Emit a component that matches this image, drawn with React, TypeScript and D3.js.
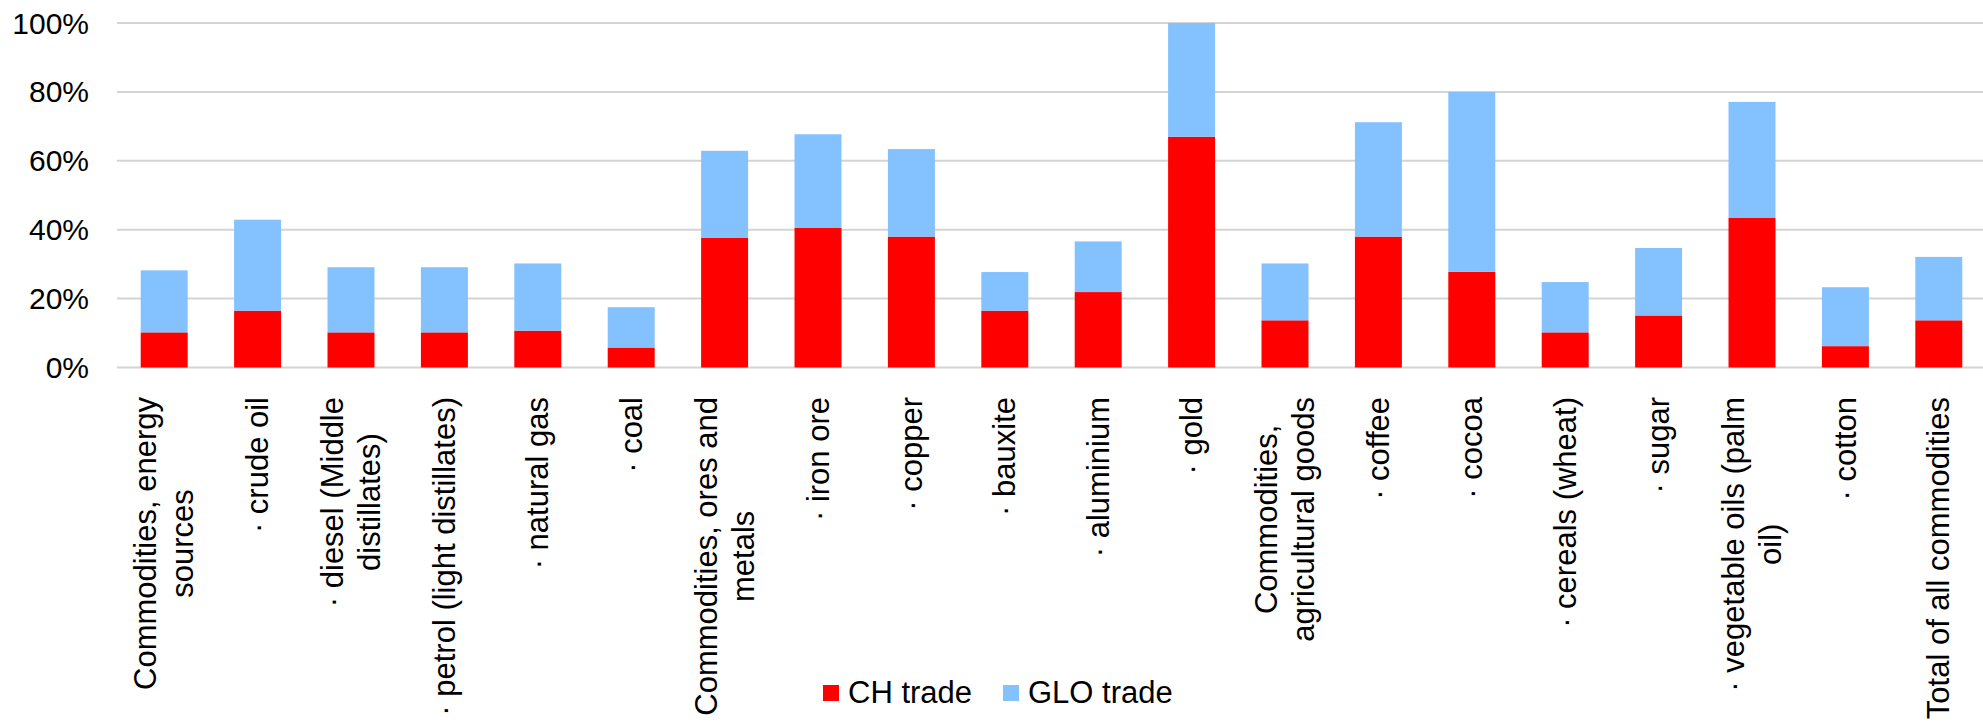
import React from "react";
import * as d3 from "d3";

const categories: string[] = [
  "Commodities, energy\nsources",
  "· crude oil",
  "· diesel (Middle\ndistillates)",
  "· petrol (light distillates)",
  "· natural gas",
  "· coal",
  "Commodities, ores and\nmetals",
  "· iron ore",
  "· copper",
  "· bauxite",
  "· aluminium",
  "· gold",
  "Commodities,\nagricultural goods",
  "· coffee",
  "· cocoa",
  "· cereals (wheat)",
  "· sugar",
  "· vegetable oils (palm\noil)",
  "· cotton",
  "Total of all commodities",
];

const chTrade: number[] = [
  0.102, 0.165, 0.102, 0.102, 0.107, 0.058, 0.376, 0.405, 0.38, 0.165,
  0.219, 0.67, 0.137, 0.38, 0.278, 0.102, 0.151, 0.434, 0.062, 0.137,
];

const gloTrade: number[] = [
  0.18, 0.264, 0.189, 0.189, 0.195, 0.117, 0.253, 0.272, 0.254, 0.112,
  0.147, 0.33, 0.165, 0.332, 0.522, 0.146, 0.196, 0.337, 0.171, 0.184,
];

const yTicks: number[] = [0, 0.2, 0.4, 0.6, 0.8, 1.0];
const seriesNames: string[] = ["CH trade", "GLO trade"];
const seriesColors: string[] = ["#ff0000", "#83c1ff"];

const W = 1983;
const H = 728;
const FONT = "'Liberation Sans', Arial, Helvetica, sans-serif";
const FS_TICK = 30;
const FS = 31;

let measureCtx: CanvasRenderingContext2D | null = null;
function measure(text: string): number {
  if (!measureCtx) {
    const c = document.createElement("canvas");
    measureCtx = c.getContext("2d");
  }
  if (!measureCtx) return text.length * FS * 0.5;
  measureCtx.font = `${FS}px ${FONT}`;
  return measureCtx.measureText(text).width;
}

export default function App() {
  const x = d3
    .scaleBand<string>()
    .domain(categories)
    .range([117.5, 1985.5])
    .paddingInner(0.497)
    .paddingOuter(0.2485);
  const y = d3.scaleLinear().domain([0, 1]).range([367.5, 23]);

  const rows = categories.map((c, i) => ({ cat: c, ch: chTrade[i], glo: gloTrade[i] }));
  const stack = d3.stack<any>().keys(["ch", "glo"]);
  const layers = stack(rows);

  const labelTop = 397;
  const lineH = 37;

  return (
    <svg
      width={W}
      height={H}
      style={{ position: "absolute", left: 0, top: 0, background: "#fff" }}
      fontFamily={FONT}
    >
      {yTicks.map((t) => (
        <line
          key={"g" + t}
          x1={117}
          x2={W}
          y1={y(t)}
          y2={y(t)}
          stroke="#d4d4d4"
          strokeWidth={2}
        />
      ))}
      {yTicks.map((t) => (
        <text
          key={"t" + t}
          x={89}
          y={y(t)}
          dy="0.35em"
          textAnchor="end"
          fontSize={FS_TICK}
          fill="#000"
        >
          {d3.format(".0%")(t)}
        </text>
      ))}
      {layers.map((layer, li) => (
        <g key={"l" + li} fill={seriesColors[li]}>
          {layer.map((d, i) => (
            <rect
              key={i}
              x={x(categories[i])}
              width={x.bandwidth()}
              y={y(d[1])}
              height={y(d[0]) - y(d[1])}
            />
          ))}
        </g>
      ))}
      {categories.map((c) => {
        const lines = c.split("\n");
        const maxW = Math.max(...lines.map(measure));
        const cx = (x(c) as number) + x.bandwidth() / 2;
        const cy = labelTop + maxW / 2;
        const n = lines.length;
        return (
          <text
            key={"x" + c}
            transform={`translate(${cx},${cy}) rotate(-90)`}
            textAnchor="middle"
            fontSize={FS}
            fill="#000"
          >
            {lines.map((ln, i) => (
              <tspan key={i} x={0} y={0.34 * FS + (i - (n - 1) / 2) * lineH}>
                {ln}
              </tspan>
            ))}
          </text>
        );
      })}
      <g>
        <rect x={823} y={685} width={16} height={16} fill={seriesColors[0]} />
        <text x={848} y={703} fontSize={FS} fill="#000">
          {seriesNames[0]}
        </text>
        <rect x={1003} y={685} width={16} height={16} fill={seriesColors[1]} />
        <text x={1028} y={703} fontSize={FS} fill="#000">
          {seriesNames[1]}
        </text>
      </g>
    </svg>
  );
}
